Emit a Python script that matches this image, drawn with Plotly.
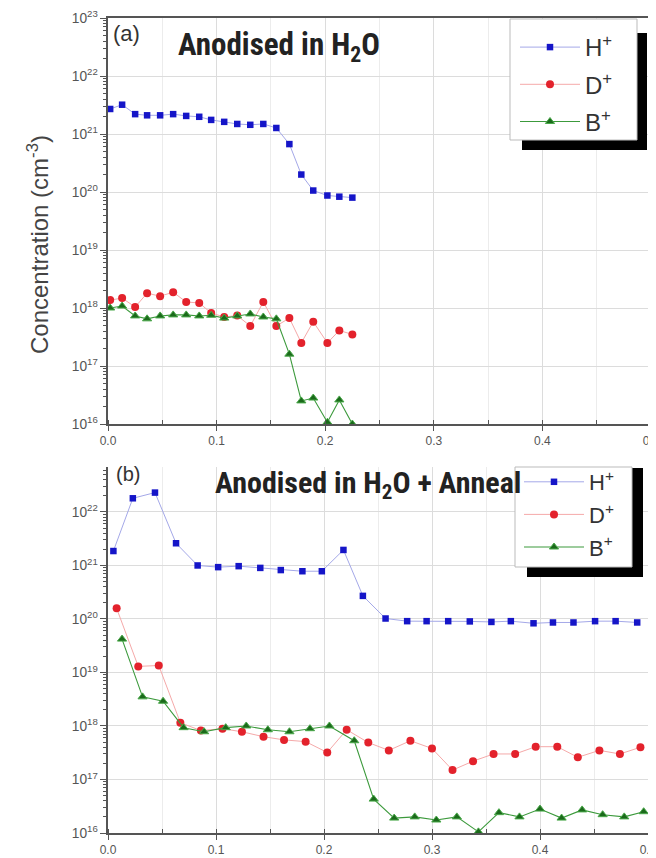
import plotly.graph_objects as go

# ---------------- data ----------------
# Panel (a): Anodised in H2O
a_x = [0.002, 0.013, 0.025, 0.036, 0.048, 0.060, 0.072, 0.084, 0.095, 0.107,
       0.119, 0.131, 0.143, 0.155, 0.167, 0.178, 0.189, 0.202, 0.213, 0.225]
a_H = [2.7e21, 3.2e21, 2.2e21, 2.1e21, 2.1e21, 2.2e21, 2.05e21, 1.98e21, 1.75e21, 1.62e21,
       1.49e21, 1.44e21, 1.49e21, 1.27e21, 6.7e20, 2.0e20, 1.06e20, 8.7e19, 8.3e19, 8.0e19]
a_D = [1.37e18, 1.48e18, 1.04e18, 1.8e18, 1.6e18, 1.87e18, 1.27e18, 1.22e18, 8.2e17, 7.0e17,
       7.4e17, 4.9e17, 1.27e18, 4.9e17, 6.7e17, 2.5e17, 5.8e17, 2.5e17, 4.1e17, 3.5e17]
a_B = [1.0e18, 1.08e18, 7.3e17, 6.5e17, 7.3e17, 7.6e17, 7.6e17, 7.3e17, 7.5e17, 6.7e17,
       7.3e17, 7.9e17, 7.0e17, 6.5e17, 1.6e17, 2.5e16, 2.8e16, 1.07e16, 2.6e16, 1.0e16]

# Panel (b): Anodised in H2O + Anneal
b_xH = [0.005, 0.023, 0.0435, 0.063, 0.083, 0.102, 0.121, 0.141, 0.160, 0.180,
        0.198, 0.218, 0.236, 0.257, 0.277, 0.295, 0.315, 0.335, 0.355, 0.373,
        0.394, 0.412, 0.431, 0.451, 0.470, 0.490]
b_H = [1.86e21, 1.8e22, 2.3e22, 2.6e21, 1.0e21, 9.3e20, 9.7e20, 9.0e20, 8.2e20, 7.8e20,
       7.8e20, 1.95e21, 2.7e20, 1.02e20, 9.1e19, 9.1e19, 9.1e19, 9.0e19, 8.8e19, 9.1e19,
       8.3e19, 8.6e19, 8.6e19, 9.1e19, 9.1e19, 8.6e19]
b_xD = [0.008, 0.028, 0.047, 0.067, 0.086, 0.106, 0.124, 0.144, 0.163, 0.183,
        0.203, 0.221, 0.241, 0.260, 0.280, 0.300, 0.319, 0.338, 0.357, 0.377,
        0.396, 0.416, 0.435, 0.455, 0.474, 0.493]
b_D = [1.58e20, 1.3e19, 1.35e19, 1.15e18, 8.2e17, 8.9e17, 7.8e17, 6.3e17, 5.5e17, 5.1e17,
       3.2e17, 8.5e17, 4.9e17, 3.5e17, 5.3e17, 3.8e17, 1.5e17, 2.2e17, 3.0e17, 3.0e17,
       4.1e17, 4.1e17, 2.6e17, 3.5e17, 3.0e17, 4.0e17]
b_xB = [0.013, 0.032, 0.051, 0.070, 0.089, 0.109, 0.128, 0.148, 0.168, 0.187,
        0.205, 0.228, 0.246, 0.265, 0.284, 0.304, 0.323, 0.343, 0.362, 0.381,
        0.400, 0.420, 0.439, 0.458, 0.478, 0.496]
b_B = [4.2e19, 3.5e18, 2.9e18, 9.3e17, 7.8e17, 9.3e17, 1.0e18, 8.5e17, 7.8e17, 8.9e17,
       1.0e18, 5.3e17, 4.3e16, 1.9e16, 2.0e16, 1.75e16, 2.0e16, 1.05e16, 2.4e16, 2.0e16,
       2.8e16, 1.9e16, 2.7e16, 2.2e16, 2.0e16, 2.5e16]

series_names = ["H<sup>+</sup>", "D<sup>+</sup>", "B<sup>+</sup>"]
title_a = "Anodised in H<sub>2</sub>O"
title_b = "Anodised in H<sub>2</sub>O + Anneal"
y_title = "Concentration (cm<sup>-3</sup>)"

# ---------------- geometry (page pixels; the page body has an 8px margin) ----------------
OFF = 8
W, H = 656, 858
ML, MT = 108 - OFF, 18 - OFF
MR = W + OFF - 651
MB = H + OFF - 833
PW = W - ML - MR
PH = H - MT - MB

def px_x(px):
    return (px - OFF - ML) / PW

def px_y(py):
    return (H - MB - (py - OFF)) / PH

styles = [
    dict(marker=dict(symbol="square", size=6.5, color="#1515c8"), line=dict(color="#a4a8e8", width=1)),
    dict(marker=dict(symbol="circle", size=8, color="#e3222c"), line=dict(color="#f5a9a9", width=1)),
    dict(marker=dict(symbol="triangle-up", size=8, color="#1b6a1b",
                     line=dict(color="#49a849", width=1)), line=dict(color="#3c9a3c", width=1.1)),
]

fig = go.Figure()

panel_a = [(a_x, a_H), (a_x, a_D), (a_x, a_B)]
panel_b = [(b_xH, b_H), (b_xD, b_D), (b_xB, b_B)]

for i, (xs, ys) in enumerate(panel_a):
    fig.add_trace(go.Scatter(x=xs, y=ys, mode="lines+markers", name=series_names[i],
                             xaxis="x", yaxis="y", legend="legend", legendgroup="a%d" % i,
                             **styles[i]))
for i, (xs, ys) in enumerate(panel_b):
    fig.add_trace(go.Scatter(x=xs, y=ys, mode="lines+markers", name=series_names[i],
                             xaxis="x2", yaxis="y2", legend="legend2", legendgroup="b%d" % i,
                             **styles[i]))

axis_col = "#555555"
grid_col = "#dcdcdc"
tick_font = dict(family="Liberation Sans, Arial, sans-serif", size=12, color="#555555")

xcommon = dict(range=[0, 0.5], dtick=0.1, tickformat=".1f", showgrid=True, gridcolor=grid_col,
               gridwidth=1, zeroline=False, showline=True, linecolor=axis_col, linewidth=2,
               ticks="outside", ticklen=5, tickcolor=axis_col, tickfont=tick_font, automargin=False,
               ticklabeloverflow="allow",
               minor=dict(dtick=0.05, ticks="inside", ticklen=4, tickcolor=axis_col,
                          showgrid=True, gridcolor="#ececec"))
ycommon = dict(type="log", dtick=1, exponentformat="power", showexponent="all",
               showgrid=True, gridcolor=grid_col, zeroline=False, showline=True, automargin=False,
               linecolor=axis_col, linewidth=2, ticks="outside", ticklen=6, tickcolor=axis_col,
               tickfont=dict(family="Liberation Sans, Arial, sans-serif", size=11, color="#555555"),
               minor=dict(dtick="D1", ticks="outside", ticklen=3, tickcolor=axis_col))

dom_a = [px_y(424), 1.0]
dom_b = [0.0, px_y(467)]

legend_font = dict(family="Liberation Sans, Arial, sans-serif", color="#333333")

fig.update_layout(
    width=W, height=H, margin=dict(l=ML, r=MR, t=MT, b=MB, autoexpand=False),
    paper_bgcolor="white", plot_bgcolor="white",
    xaxis=dict(domain=[0, 1], anchor="y", mirror=True, **xcommon),
    yaxis=dict(domain=dom_a, anchor="x", range=[16, 23], mirror="ticks", **ycommon),
    xaxis2=dict(domain=[0, px_x(648)], anchor="y2", mirror=False, **xcommon),
    yaxis2=dict(domain=dom_b, anchor="x2", range=[16, 22.84], mirror="ticks", **ycommon),
    legend=dict(x=px_x(515), y=px_y(25), xanchor="left", yanchor="top", itemwidth=60,
                bgcolor="rgba(0,0,0,0)", borderwidth=0, tracegroupgap=3,
                font=dict(legend_font, size=24)),
    legend2=dict(x=px_x(519), y=px_y(461), xanchor="left", yanchor="top", itemwidth=60,
                 bgcolor="rgba(0,0,0,0)", borderwidth=0, tracegroupgap=1,
                 font=dict(legend_font, size=22)),
    showlegend=True,
)

# legend boxes with black drop shadow
shapes = [
    dict(type="rect", xref="paper", yref="paper", x0=px_x(522), x1=px_x(647), y0=px_y(150), y1=px_y(33),
         fillcolor="black", line=dict(width=0), layer="above"),
    dict(type="rect", xref="paper", yref="paper", x0=px_x(510), x1=px_x(637), y0=px_y(140), y1=px_y(19),
         fillcolor="white", line=dict(color="#bbbbbb", width=1), layer="above"),
    dict(type="rect", xref="paper", yref="paper", x0=px_x(527), x1=px_x(643), y0=px_y(577), y1=px_y(468),
         fillcolor="black", line=dict(width=0), layer="above"),
    dict(type="rect", xref="paper", yref="paper", x0=px_x(515), x1=px_x(632), y0=px_y(567), y1=px_y(467),
         fillcolor="white", line=dict(color="#bbbbbb", width=1), layer="above"),
]
fig.update_layout(shapes=shapes)

ann_font_title = dict(family="Roboto Condensed, Liberation Sans Narrow, Roboto, sans-serif",
                      size=31, color="#222222", weight="bold")
annotations = [
    dict(text="(a)", x=px_x(111), y=px_y(33), xref="paper", yref="paper", xanchor="left",
         yanchor="middle", showarrow=False,
         font=dict(family="Liberation Sans, Arial, sans-serif", size=22, color="#333333")),
    dict(text=title_a, x=px_x(279), y=px_y(46), xref="paper", yref="paper", xanchor="center",
         yanchor="middle", showarrow=False, font=ann_font_title),
    dict(text="(b)", x=px_x(114), y=px_y(474), xref="paper", yref="paper", xanchor="left",
         yanchor="middle", showarrow=False,
         font=dict(family="Liberation Sans, Arial, sans-serif", size=20, color="#333333")),
    dict(text=title_b, x=px_x(368), y=px_y(484), xref="paper", yref="paper", xanchor="center",
         yanchor="middle", showarrow=False, font=dict(ann_font_title, size=30)),
    dict(text=y_title, x=px_x(38), y=px_y(245), xref="paper", yref="paper", xanchor="center",
         yanchor="middle", textangle=-90, showarrow=False,
         font=dict(family="Liberation Sans, Arial, sans-serif", size=24, color="#444444")),
]
fig.update_layout(annotations=annotations)

fig.write_html("out.html")
